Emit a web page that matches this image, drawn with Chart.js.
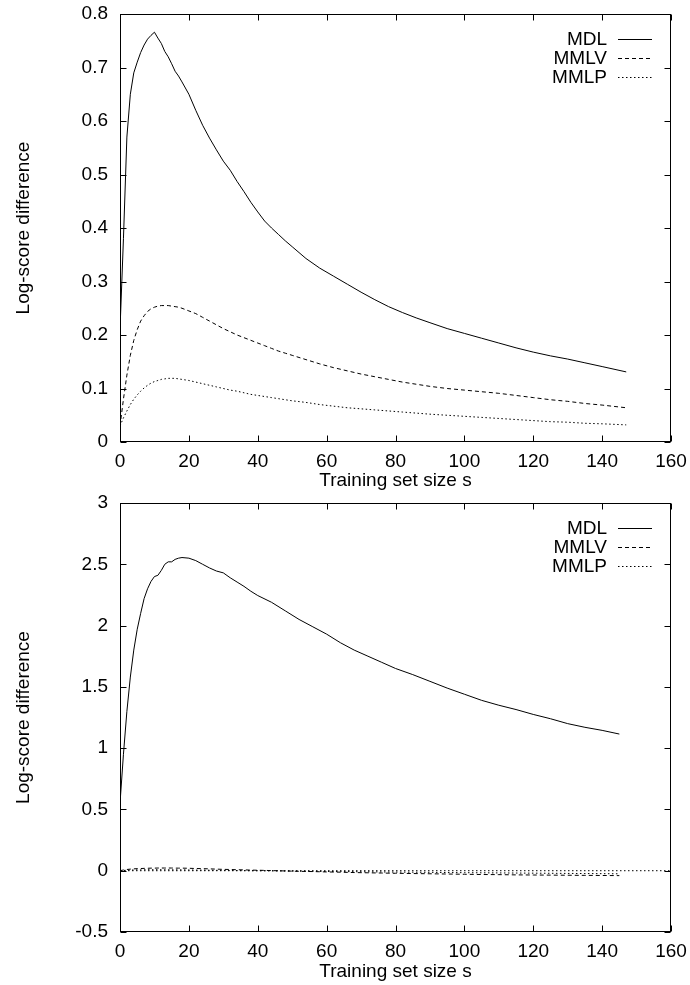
<!DOCTYPE html>
<html>
<head>
<meta charset="utf-8">
<title>Log-score difference</title>
<script src="https://cdn.jsdelivr.net/npm/chart.js@4.4.1/dist/chart.umd.min.js"></script>
<style>
  html, body { margin: 0; padding: 0; background: #fff; }
  canvas { display: block; }
</style>
</head>
<body>
<canvas id="chart1" width="690" height="492"></canvas>
<canvas id="chart2" width="690" height="493"></canvas>
<script>
// first run: training set size vs log-score difference
const sizesTop = [0, 1, 2, 3, 4, 5, 6, 7, 8, 9, 10, 11, 12, 13, 14, 15, 16, 17, 18,
    20, 22, 24, 26, 28, 30, 32, 34, 36, 38, 40, 42, 44, 46, 48, 50,
    54, 58, 62, 66, 70, 74, 78, 82, 86, 90,
    95, 100, 105, 110, 115, 120, 125, 130, 135, 140, 147];
const mdlTop = [0.21, 0.38, 0.57, 0.65, 0.69, 0.71, 0.728, 0.742, 0.753, 0.76, 0.766, 0.755, 0.745, 0.73, 0.72, 0.707, 0.693, 0.684, 0.673,
    0.65, 0.62, 0.592, 0.568, 0.546, 0.525, 0.508, 0.487, 0.468, 0.448, 0.43, 0.413, 0.4, 0.388, 0.376, 0.365,
    0.343, 0.325, 0.31, 0.295, 0.28, 0.266, 0.253, 0.242, 0.232, 0.223,
    0.212, 0.203, 0.194, 0.185, 0.176, 0.168, 0.161, 0.155, 0.148, 0.141, 0.131];
const mmlvTop = [0.03, 0.08, 0.125, 0.162, 0.19, 0.21, 0.226, 0.236, 0.244, 0.249, 0.252, 0.254, 0.255, 0.255, 0.255, 0.254, 0.253, 0.252, 0.25,
    0.245, 0.24, 0.233, 0.226, 0.219, 0.212, 0.206, 0.2, 0.195, 0.19, 0.185, 0.18, 0.175, 0.17, 0.166, 0.162,
    0.154, 0.146, 0.139, 0.133, 0.127, 0.122, 0.117, 0.112, 0.108, 0.104,
    0.1, 0.097, 0.094, 0.091, 0.087, 0.083, 0.079, 0.076, 0.072, 0.069, 0.064];
const mmlpTop = [0.03, 0.045, 0.058, 0.07, 0.08, 0.088, 0.095, 0.101, 0.106, 0.11, 0.113, 0.115, 0.117, 0.118, 0.119, 0.119, 0.119, 0.118, 0.117,
    0.115, 0.112, 0.109, 0.106, 0.103, 0.1, 0.097, 0.095, 0.092, 0.089, 0.087, 0.085, 0.083, 0.081, 0.079, 0.077,
    0.074, 0.07, 0.067, 0.064, 0.062, 0.06, 0.058, 0.056, 0.054, 0.052,
    0.05, 0.048, 0.046, 0.044, 0.042, 0.04, 0.038, 0.037, 0.035, 0.034, 0.032];

// second run
const sizesBottom = [0, 1, 2, 3, 4, 5, 6, 7, 8, 9, 10, 11, 12, 13, 14, 15, 16, 17, 18,
    20, 22, 24, 26, 28, 30, 32, 34, 36, 38, 40,
    44, 48, 52, 56, 60, 64, 68, 72, 76, 80,
    85, 90, 95, 100, 105, 110, 115, 120, 125, 130, 135, 140, 145];
const mdlBottom = [0.55, 0.95, 1.3, 1.58, 1.8, 1.97, 2.1, 2.22, 2.3, 2.36, 2.4, 2.41, 2.45, 2.5, 2.52, 2.52, 2.54, 2.55, 2.555,
    2.55, 2.53, 2.5, 2.47, 2.445, 2.43, 2.39, 2.355, 2.32, 2.28, 2.245,
    2.19, 2.12, 2.05, 1.99, 1.93, 1.86, 1.8, 1.75, 1.7, 1.65,
    1.6, 1.545, 1.49, 1.44, 1.39, 1.35, 1.315, 1.275, 1.24, 1.2, 1.17, 1.145, 1.115];
const mmlvBottom = [0, 0.006, 0.01, 0.013, 0.015, 0.017, 0.018, 0.019, 0.02, 0.021, 0.021, 0.022, 0.022, 0.022, 0.022, 0.022, 0.021, 0.021, 0.021,
    0.02, 0.018, 0.017, 0.015, 0.013, 0.011, 0.01, 0.008, 0.007, 0.005, 0.004,
    0.001, -0.002, -0.005, -0.007, -0.01, -0.012, -0.015, -0.017, -0.019, -0.021,
    -0.023, -0.025, -0.027, -0.029, -0.031, -0.032, -0.034, -0.035, -0.036, -0.037, -0.038, -0.039, -0.04];
const mmlpBottom = [0, 0.002, 0.004, 0.005, 0.006, 0.007, 0.007, 0.008, 0.008, 0.008, 0.008, 0.008, 0.008, 0.008, 0.008, 0.007, 0.007, 0.007, 0.007,
    0.006, 0.005, 0.005, 0.004, 0.003, 0.003, 0.002, 0.001, 0.001, 0, 0,
    -0.001, -0.003, -0.004, -0.005, -0.006, -0.007, -0.008, -0.009, -0.01, -0.011,
    -0.012, -0.013, -0.015, -0.016, -0.017, -0.018, -0.019, -0.02, -0.021, -0.022, -0.023, -0.024, -0.025];

// dotted y=0 reference across the whole x range
const zeroX = [0, 160];
const zeroY = [0, 0];

const FONT = '"Liberation Sans", Arial, Helvetica, sans-serif';
Chart.defaults.font.family = FONT;
Chart.defaults.font.size = 19;
Chart.defaults.color = '#000';

function pts(xs, ys) {
    return xs.map((x, i) => ({ x: x, y: ys[i] }));
}

function series(label, xs, ys, dash) {
    return {
        label: label,
        data: pts(xs, ys),
        borderColor: '#000',
        borderWidth: 1,
        borderDash: dash,
        pointRadius: 0,
        fill: false,
        tension: 0
    };
}

// box around the plot with inward tick marks on all four sides
const frameTicks = {
    id: 'frameTicks',
    afterDatasetsDraw(chart) {
        const { ctx, chartArea: c, scales } = chart;
        const l = Math.round(c.left) + 0.5, r = Math.round(c.right) - 0.5;
        const t = Math.round(c.top) + 0.5, b = Math.round(c.bottom) - 0.5;
        ctx.save();
        ctx.strokeStyle = '#000';
        ctx.lineWidth = 1;
        ctx.setLineDash([]);
        ctx.strokeRect(l, t, r - l, b - t);
        ctx.beginPath();
        scales.x.ticks.forEach(tk => {
            const px = Math.round(scales.x.getPixelForValue(tk.value)) + 0.5;
            ctx.moveTo(px, b); ctx.lineTo(px, b - 6);
            ctx.moveTo(px, t); ctx.lineTo(px, t + 6);
        });
        scales.y.ticks.forEach(tk => {
            const py = Math.round(scales.y.getPixelForValue(tk.value)) + 0.5;
            ctx.moveTo(l, py); ctx.lineTo(l + 6, py);
            ctx.moveTo(r, py); ctx.lineTo(r - 6, py);
        });
        ctx.stroke();
        ctx.restore();
    }
};

// key in the top right corner, inside the frame
const keyBox = {
    id: 'keyBox',
    afterDatasetsDraw(chart) {
        const { ctx, chartArea: c } = chart;
        ctx.save();
        ctx.font = '19px ' + FONT;
        ctx.fillStyle = '#000';
        ctx.textAlign = 'right';
        ctx.textBaseline = 'middle';
        let row = 0;
        chart.data.datasets.forEach(ds => {
            if (!ds.label) return;
            const y = Math.round(c.top + 25 + row * 19) + 0.5;
            ctx.fillText(ds.label, c.right - 64, y);
            ctx.setLineDash(ds.borderDash || []);
            ctx.strokeStyle = ds.borderColor;
            ctx.lineWidth = ds.borderWidth;
            ctx.beginPath();
            ctx.moveTo(c.right - 53, y);
            ctx.lineTo(c.right - 19, y);
            ctx.stroke();
            row++;
        });
        ctx.restore();
    }
};

// gnuplot style numbers: 3, 2.5, 2 ... rather than 3.0, 2.5, 2.0
const plainNumber = v => String(Number(v.toFixed(2)));

function options(yMin, yMax, yStep, padTop, xHeight, titlePad) {
    return {
        responsive: false,
        devicePixelRatio: 1,
        animation: false,
        layout: { padding: { top: padTop, right: 19, bottom: 0, left: 0 } },
        plugins: {
            legend: { display: false },
            tooltip: { enabled: false }
        },
        scales: {
            x: {
                type: 'linear',
                min: 0,
                max: 160,
                grid: { display: false, drawTicks: false },
                border: { display: false },
                ticks: { stepSize: 20, padding: 8, callback: plainNumber },
                title: { display: true, text: 'Training set size s', padding: { top: 0, bottom: titlePad } },
                afterFit: scale => {
                    scale.height = xHeight;
                    scale.paddingLeft = 0;
                    scale.paddingRight = 0;
                }
            },
            y: {
                min: yMin,
                max: yMax,
                grid: { display: false, drawTicks: false },
                border: { display: false },
                ticks: { stepSize: yStep, padding: 12, callback: plainNumber },
                title: { display: true, text: 'Log-score difference', padding: { top: 12, bottom: 0 } },
                afterFit: scale => {
                    scale.width = 120;
                    scale.paddingTop = 0;
                    scale.paddingBottom = 0;
                }
            }
        }
    };
}

const a = document.getElementById('chart1');
new Chart(a, {
    type: 'line',
    data: {
        datasets: [
            series('MDL', sizesTop, mdlTop, []),
            series('MMLV', sizesTop, mmlvTop, [4, 3]),
            series('MMLP', sizesTop, mmlpTop, [1.5, 2.5])
        ]
    },
    options: options(0, 0.8, 0.1, 14, 50, 0),
    plugins: [frameTicks, keyBox]
});

const b = document.getElementById('chart2');
new Chart(b, {
    type: 'line',
    data: {
        datasets: [
            series('', zeroX, zeroY, [1.5, 2.5]),
            series('MDL', sizesBottom, mdlBottom, []),
            series('MMLV', sizesBottom, mmlvBottom, [4, 3]),
            series('MMLP', sizesBottom, mmlpBottom, [1.5, 2.5])
        ]
    },
    options: options(-0.5, 3, 0.5, 11, 53, 2),
    plugins: [frameTicks, keyBox]
});
</script>
</body>
</html>
